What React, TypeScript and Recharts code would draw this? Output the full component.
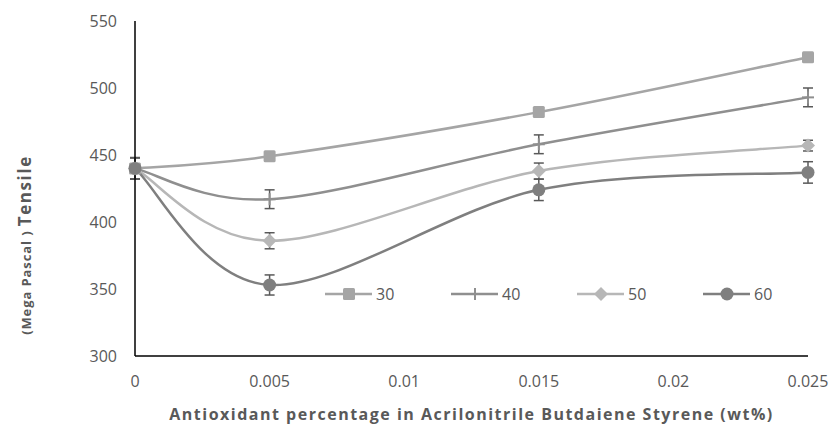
import React from 'react';
import { LineChart, Line, XAxis, YAxis, ErrorBar, Legend, Label } from 'recharts';

// x positions (wt%)
const antioxidant = [0, 0.005, 0.015, 0.025];
const xTicks = [0, 0.005, 0.01, 0.015, 0.02, 0.025];
const yTicks = [300, 350, 400, 450, 500, 550];

// tensile values (MPa) and error for each series
const t30 = [440, 449, 482, 523];
const e30 = [8, 3, 3, 3];
const t40 = [440, 417, 458, 493];
const e40 = [8, 7, 7, 7];
const t50 = [440, 386, 438, 457];
const e50 = [8, 6, 6, 4];
const t60 = [440, 353, 424, 437];
const e60 = [8, 7.5, 8, 8];

const data = antioxidant.map((x, i) => ({
  x,
  s30: t30[i], e30: e30[i],
  s40: t40[i], e40: e40[i],
  s50: t50[i], e50: e50[i],
  s60: t60[i], e60: e60[i],
}));

const FONT = "'Open Sans', sans-serif";
const TEXT = '#595959';
const BAR = '#595959';

const C30 = '#a5a5a5';
const C40 = '#8f8f8f';
const C50 = '#b7b7b7';
const C60 = '#7f7f7f';

// excel-like smoothed line (bezier with 1/6 tangents)
const excelCurve = (context: any) => {
  let pts: [number, number][] = [];
  return {
    areaStart() {},
    areaEnd() {},
    lineStart() { pts = []; },
    lineEnd() {
      if (!pts.length) return;
      context.moveTo(pts[0][0], pts[0][1]);
      for (let i = 0; i < pts.length - 1; i++) {
        const p0 = pts[Math.max(i - 1, 0)];
        const p1 = pts[i];
        const p2 = pts[i + 1];
        const p3 = pts[Math.min(i + 2, pts.length - 1)];
        context.bezierCurveTo(
          p1[0] + (p2[0] - p0[0]) / 6, p1[1] + (p2[1] - p0[1]) / 6,
          p2[0] - (p3[0] - p1[0]) / 6, p2[1] - (p3[1] - p1[1]) / 6,
          p2[0], p2[1]
        );
      }
    },
    point(x: number, y: number) { pts.push([+x, +y]); },
  };
};

const Marker = ({ kind, cx, cy, color }: { kind: string; cx: number; cy: number; color: string }) => {
  if (kind === 'square') return <rect x={cx - 6} y={cy - 6} width={12} height={12} rx={1.5} fill={color} />;
  if (kind === 'plus')
    return (
      <g stroke={color} strokeWidth={2}>
        <line x1={cx} y1={cy - 6} x2={cx} y2={cy + 6} />
        <line x1={cx - 6} y1={cy} x2={cx + 6} y2={cy} />
      </g>
    );
  if (kind === 'diamond')
    return <polygon points={`${cx},${cy - 7} ${cx + 7},${cy} ${cx},${cy + 7} ${cx - 7},${cy}`} fill={color} />;
  return <circle cx={cx} cy={cy} r={6.5} fill={color} />;
};

const dotFor = (kind: string, color: string) => (props: any) => (
  <Marker key={`${kind}-${props.index}`} kind={kind} cx={props.cx} cy={props.cy} color={color} />
);

const legendItems = [
  { name: '30', kind: 'square', color: C30 },
  { name: '40', kind: 'plus', color: C40 },
  { name: '50', kind: 'diamond', color: C50 },
  { name: '60', kind: 'circle', color: C60 },
];

const renderLegend = () => (
  <div style={{ display: 'flex', fontFamily: FONT, fontSize: 16, color: TEXT }}>
    {legendItems.map((it) => (
      <div key={it.name} style={{ display: 'flex', alignItems: 'center', width: 126 }}>
        <svg width={48} height={16}>
          <line x1={0} y1={8} x2={47} y2={8} stroke={it.color} strokeWidth={2.5} />
          <Marker kind={it.kind} cx={24} cy={8} color={it.color} />
        </svg>
        <span style={{ marginLeft: 3 }}>{it.name}</span>
      </div>
    ))}
  </div>
);

const YTitle = () => (
  <text
    transform="translate(31, 245) rotate(-90)"
    textAnchor="middle"
    fill={TEXT}
    fontFamily={FONT}
    fontWeight="bold"
  >
    <tspan fontSize={13} letterSpacing={0.9}>(Mega Pascal ) </tspan>
    <tspan fontSize={17} letterSpacing={1.6}>Tensile</tspan>
  </text>
);

const App: React.FC = () => {
  return (
    <div style={{ position: 'absolute', left: 0, top: 0, width: 838, height: 425, background: '#fff' }}>
      <LineChart
        width={838}
        height={425}
        data={data}
        margin={{ top: 21, right: 30, left: 40, bottom: 40 }}
      >
        <XAxis
          dataKey="x"
          type="number"
          domain={[0, 0.025]}
          ticks={xTicks}
          height={29}
          axisLine={{ stroke: '#000', strokeWidth: 1.5 }}
          tickLine={false}
          tickSize={0}
          tickMargin={20}
          tick={{ fill: TEXT, fontSize: 16, fontFamily: FONT }}
        >
          <Label
            value="Antioxidant percentage in Acrilonitrile Butdaiene Styrene  (wt%)"
            position="bottom"
            offset={24}
            style={{ fill: TEXT, fontSize: 16, fontWeight: 'bold', fontFamily: FONT, letterSpacing: 1.5, whiteSpace: 'pre' }}
          />
        </XAxis>
        <YAxis
          type="number"
          domain={[300, 550]}
          ticks={yTicks}
          width={95}
          axisLine={{ stroke: '#000', strokeWidth: 1.5 }}
          tickLine={false}
          tickSize={0}
          tickMargin={18}
          tick={{ fill: TEXT, fontSize: 16, fontFamily: FONT }}
          label={{ content: () => <YTitle /> }}
        />
        <Legend
          layout="horizontal"
          verticalAlign="middle"
          align="center"
          content={renderLegend}
          wrapperStyle={{ top: 283, left: 325, width: 520 }}
        />
        <Line dataKey="s30" stroke={C30} strokeWidth={2.5} type={excelCurve as any} dot={dotFor('square', C30)} activeDot={false} isAnimationActive={false}>
          <ErrorBar dataKey="e30" direction="y" width={5} stroke={BAR} strokeWidth={1.5} />
        </Line>
        <Line dataKey="s40" stroke={C40} strokeWidth={2.5} type={excelCurve as any} dot={dotFor('plus', C40)} activeDot={false} isAnimationActive={false}>
          <ErrorBar dataKey="e40" direction="y" width={5} stroke={BAR} strokeWidth={1.5} />
        </Line>
        <Line dataKey="s50" stroke={C50} strokeWidth={2.5} type={excelCurve as any} dot={dotFor('diamond', C50)} activeDot={false} isAnimationActive={false}>
          <ErrorBar dataKey="e50" direction="y" width={5} stroke={BAR} strokeWidth={1.5} />
        </Line>
        <Line dataKey="s60" stroke={C60} strokeWidth={2.5} type={excelCurve as any} dot={dotFor('circle', C60)} activeDot={false} isAnimationActive={false}>
          <ErrorBar dataKey="e60" direction="y" width={5} stroke={BAR} strokeWidth={1.5} />
        </Line>
      </LineChart>
    </div>
  );
};

export default App;
